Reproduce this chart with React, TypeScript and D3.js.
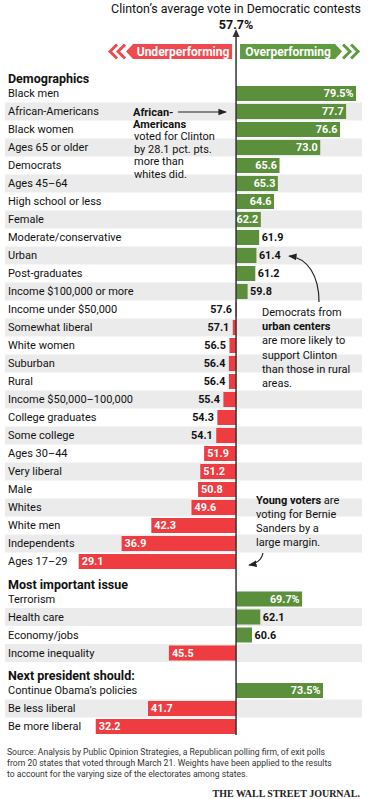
import React from "react";
import * as d3 from "d3";

const titleText = "Clinton\u2019s average vote in Democratic contests";
const average = 57.7;

const sectionTitles = ["Demographics", "Most important issue", "Next president should:"];

const demoLabels = [
  "Black men", "African-Americans", "Black women", "Ages 65 or older", "Democrats",
  "Ages 45\u201364", "High school or less", "Female", "Moderate/conservative", "Urban",
  "Post-graduates", "Income $100,000 or more", "Income under $50,000", "Somewhat liberal",
  "White women", "Suburban", "Rural", "Income $50,000\u2013100,000", "College graduates",
  "Some college", "Ages 30\u201344", "Very liberal", "Male", "Whites", "White men",
  "Independents", "Ages 17\u201329",
];
const demoValues = [
  79.5, 77.7, 76.6, 73.0, 65.6, 65.3, 64.6, 62.2, 61.9, 61.4, 61.2, 59.8, 57.6, 57.1,
  56.5, 56.4, 56.4, 55.4, 54.3, 54.1, 51.9, 51.2, 50.8, 49.6, 42.3, 36.9, 29.1,
];

const issueLabels = ["Terrorism", "Health care", "Economy/jobs", "Income inequality"];
const issueValues = [69.7, 62.1, 60.6, 45.5];

const nextLabels = ["Continue Obama\u2019s policies", "Be less liberal", "Be more liberal"];
const nextValues = [73.5, 41.7, 32.2];

const sourceLines = [
  "Source: Analysis by Public Opinion Strategies, a Republican polling firm, of exit polls",
  "from 20 states that voted through March 21. Weights have been applied to the results",
  "to account for the varying size of the electorates among states.",
];

const GREEN = "#5b8f3b";
const RED = "#ee3c41";
const FONT = "Roboto, 'Noto Sans', sans-serif";

export default function App() {
  const W = 372, H = 799;
  const allValues = [...demoValues, ...issueValues, ...nextValues];
  const x = d3.scaleLinear()
    .domain([d3.min(allValues) as number, d3.max(allValues) as number])
    .range([78.7, 356]);
  const x0 = x(average);

  const sections = [
    { title: sectionTitles[0], labels: demoLabels, values: demoValues },
    { title: sectionTitles[1], labels: issueLabels, values: issueValues },
    { title: sectionTitles[2], labels: nextLabels, values: nextValues },
  ];

  const rowStep = 18;
  let headY = 79;
  const layout: any[] = [];
  sections.forEach((s) => {
    const firstY = headY + 14.5;
    const rows = s.labels.map((l, i) => ({ label: l, value: s.values[i], y: firstY + i * rowStep, i }));
    layout.push({ title: s.title, headY, rows });
    headY = rows[rows.length - 1].y + 23;
  });

  const barH = 15;

  const fmt = (v: number, first: boolean) => d3.format(".1f")(v) + (first ? "%" : "");

  return (
    <svg width={W} height={H} style={{ position: "absolute", left: 0, top: 0, background: "#fff" }} fontFamily={FONT}>
      <defs>
        <marker id="ah" viewBox="0 0 10 10" refX="9" refY="5" markerWidth="7" markerHeight="7" orient="auto-start-reverse">
          <path d="M0,1 L10,5 L0,9 z" fill="#222" />
        </marker>
      </defs>

      {/* stripes */}
      {layout.map((sec, si) =>
        sec.rows.filter((r: any) => r.i % 2 === 1).map((r: any) => (
          <rect key={`s${si}-${r.i}`} x={5} y={r.y - rowStep / 2} width={357} height={rowStep} fill="#ebebeb" />
        ))
      )}

      {/* title */}
      <text x={x0} y={8.5} dy="0.35em" textAnchor="middle" fontSize={12.4} fill="#111">{titleText}</text>
      <text x={x0} y={24.5} dy="0.35em" textAnchor="middle" fontSize={12.5} fontWeight="bold" fill="#111">
        {d3.format(".1f")(average)}%
      </text>

      {/* banners */}
      <g>
        <polygon points={`${x0 - 110},51.5 ${x0 - 103},44 ${x0 - 4},44 ${x0 - 4},59 ${x0 - 103},59`} fill="#f04a4f" />
        {[0, 1].map((k) => {
          const tx = x0 - 118 - k * 8;
          return <polyline key={`rc${k}`} points={`${tx + 7},44.5 ${tx},51.5 ${tx + 7},58.5`} fill="none" stroke="#f04a4f" strokeWidth={3} />;
        })}
        <text x={x0 - 53} y={51.5} dy="0.35em" textAnchor="middle" fontSize={12} fontWeight="bold" fill="#fff">Underperforming</text>

        <polygon points={`${x0 + 4},44 ${x0 + 99},44 ${x0 + 106},51.5 ${x0 + 99},59 ${x0 + 4},59`} fill="#5f9b3f" />
        {[0, 1].map((k) => {
          const tx = x0 + 114 + k * 8;
          return <polyline key={`gc${k}`} points={`${tx - 7},44.5 ${tx},51.5 ${tx - 7},58.5`} fill="none" stroke="#5f9b3f" strokeWidth={3} />;
        })}
        <text x={x0 + 52} y={51.5} dy="0.35em" textAnchor="middle" fontSize={12} fontWeight="bold" fill="#fff">Overperforming</text>
      </g>

      {/* sections */}
      {layout.map((sec, si) => (
        <g key={`sec${si}`}>
          <text x={8} y={sec.headY} dy="0.35em" fontSize={12.5} fontWeight="bold" fill="#111">{sec.title}</text>
          {sec.rows.map((r: any) => {
            const xv = x(r.value);
            const over = r.value >= average;
            const left = Math.min(xv, x0);
            const w = Math.abs(xv - x0);
            const inside = Math.abs(r.value - average) >= 4.45;
            const label = fmt(r.value, r.i === 0);
            let lx: number, anchor: string;
            if (over) {
              lx = inside ? xv - 2.5 : xv + 2.5;
              anchor = inside ? "end" : "start";
            } else {
              lx = inside ? xv + 3 : xv - 3.5;
              anchor = inside ? "start" : "end";
            }
            return (
              <g key={`r${si}-${r.i}`}>
                <text x={8} y={r.y} dy="0.35em" fontSize={11} fill="#111">{r.label}</text>
                <rect x={left} y={r.y - barH / 2} width={Math.max(w, 1)} height={barH} fill={over ? GREEN : RED} />
                <text x={lx} y={r.y} dy="0.35em" textAnchor={anchor} fontSize={10.8} fontWeight="bold" fill={inside ? "#fff" : "#111"}>
                  {label}
                </text>
              </g>
            );
          })}
        </g>
      ))}

      {/* axis line with arrow */}
      <line x1={x0} x2={x0} y1={33} y2={735} stroke="#333" strokeWidth={1.5} />
      <path d={`M${x0 - 3.5},37 L${x0},29 L${x0 + 3.5},37 z`} fill="#333" />

      {/* annotation: African-Americans */}
      <g fontSize={11} fill="#111">
        <text x={133} y={112} dy="0.35em" fontWeight="bold">African-</text>
        <text x={133} y={124} dy="0.35em" fontWeight="bold">Americans</text>
        <text x={134} y={136.5} dy="0.35em">voted for Clinton</text>
        <text x={134} y={149} dy="0.35em">by 28.1 pct. pts.</text>
        <text x={134} y={161.5} dy="0.35em">more than</text>
        <text x={134} y={174} dy="0.35em">whites did.</text>
      </g>
      <line x1={178} x2={226} y1={112} y2={112} stroke="#222" strokeWidth={1.2} markerEnd="url(#ah)" />

      {/* annotation: urban */}
      <path d="M319,302 C319,276 308,258 289,256" fill="none" stroke="#222" strokeWidth={1.2} markerEnd="url(#ah)" />
      <g fontSize={11} fill="#111">
        <text x={262} y={312} dy="0.35em">Democrats from</text>
        <text x={262} y={326} dy="0.35em" fontWeight="bold">urban centers</text>
        <text x={262} y={340.5} dy="0.35em">are more likely to</text>
        <text x={262} y={355} dy="0.35em">support Clinton</text>
        <text x={262} y={369} dy="0.35em">than those in rural</text>
        <text x={262} y={383} dy="0.35em">areas.</text>
      </g>

      {/* annotation: young voters */}
      <g fontSize={11} fill="#111">
        <text x={256} y={500} dy="0.35em"><tspan fontWeight="bold">Young voters</tspan> are</text>
        <text x={256} y={514} dy="0.35em">voting for Bernie</text>
        <text x={256} y={528} dy="0.35em">Sanders by a</text>
        <text x={256} y={542} dy="0.35em">large margin.</text>
      </g>
      <path d="M263,553 Q261,563 249,565" fill="none" stroke="#222" strokeWidth={1.2} markerEnd="url(#ah)" />

      {/* source */}
      <g fontSize={8.6} fill="#333">
        {sourceLines.map((s, i) => (
          <text key={`src${i}`} x={7} y={752 + i * 11} dy="0.35em">{s}</text>
        ))}
      </g>
      <text x={360} y={793} dy="0.35em" textAnchor="end" fontSize={10} fontWeight="bold" fontFamily="'Liberation Serif', 'DejaVu Serif', serif" fill="#222">
        THE WALL STREET JOURNAL.
      </text>
    </svg>
  );
}
